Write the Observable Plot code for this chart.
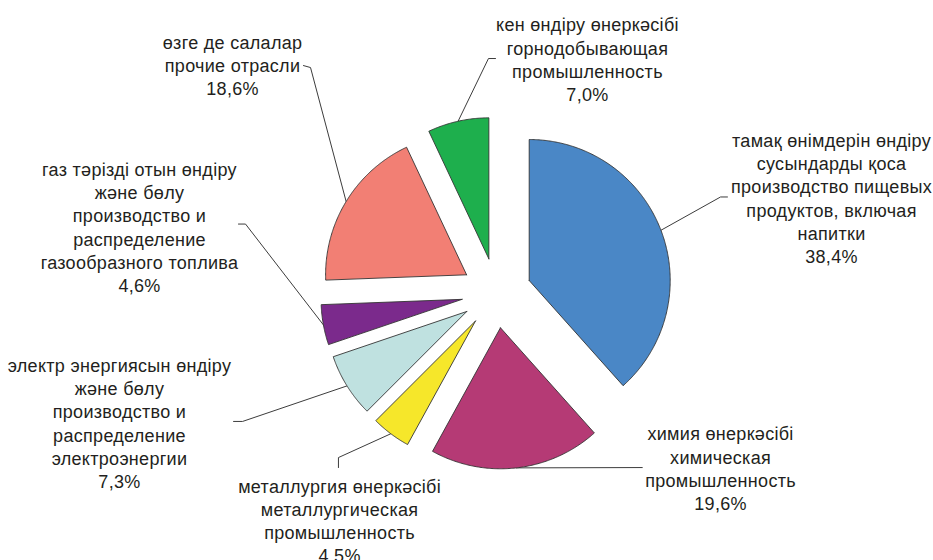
<!DOCTYPE html>
<html>
<head>
<meta charset="utf-8">
<script src="https://cdn.jsdelivr.net/npm/d3@7"></script>
<script src="https://cdn.jsdelivr.net/npm/@observablehq/plot@0.6"></script>
<style>
  html, body { margin: 0; padding: 0; background: #fff; overflow: hidden; }
  #chart svg { display: block; }
  #chart svg text { letter-spacing: 0.3px; }
</style>
</head>
<body>
<div id="chart"></div>
<script>
// ---- data ----
const categories = ["food", "chemistry", "metallurgy", "electricity", "gas", "other", "mining"];
const shares = [38.4, 19.6, 4.5, 7.3, 4.6, 18.6, 7.0];
const labels = [
  "тамақ өнімдерін өндіру\nсусындарды қоса\nпроизводство пищевых\nпродуктов, включая\nнапитки\n38,4%",
  "химия өнеркәсібі\nхимическая\nпромышленность\n19,6%",
  "металлургия өнеркәсібі\nметаллургическая\nпромышленность\n4,5%",
  "электр энергиясын өндіру\nжәне бөлу\nпроизводство и\nраспределение\nэлектроэнергии\n7,3%",
  "газ тәрізді отын өндіру\nжәне бөлу\nпроизводство и\nраспределение\nгазообразного топлива\n4,6%",
  "өзге де салалар\nпрочие отрасли\n18,6%",
  "кен өндіру өнеркәсібі\nгорнодобывающая\nпромышленность\n7,0%"
];

// ---- styles / layout (in pie-radius units) ----
const colors = ["#4a87c6", "#b53a75", "#f6e72a", "#bfe1e0", "#7b2a8c", "#f27f74", "#1eaf4d"];
const explode = 35 / 141;
const labelX = [2.376, 1.589, -1.113, -2.674, -2.532, -1.872, 0.645];
const labelY = [0.677, -1.241, -1.610, -0.918, 0.472, 1.621, 1.660];
const elbowX = [1.589, 1.035, -1.121, -1.801, -1.780, -1.319, -0.057];
const elbowY = [0.681, -1.238, -1.167, -0.911, 0.489, 1.599, 1.663];
const endX   = [1.638, 1.035, -1.121, -1.865, -1.830, -1.369, -0.007];
const endY   = [0.681, -1.238, -1.238, -0.911, 0.489, 1.613, 1.663];

// ---- geometry from data ----
const arcs = d3.pie().sort(null).value(d => d)(shares);
const slices = arcs.map((a, i) => {
  const mid = (a.startAngle + a.endAngle) / 2;
  const ox = explode * Math.sin(mid), oy = explode * Math.cos(mid);
  const pts = [{x: ox, y: oy}];
  const n = Math.max(2, Math.ceil((a.endAngle - a.startAngle) / (Math.PI / 360)));
  for (let k = 0; k <= n; k++) {
    const t = a.startAngle + (a.endAngle - a.startAngle) * k / n;
    pts.push({x: ox + Math.sin(t), y: oy + Math.cos(t)});
  }
  pts.push({x: ox, y: oy});
  return {pts, mid: {x: ox + Math.sin(mid), y: oy + Math.cos(mid)}, color: colors[i]};
});

const leaders = [];
slices.forEach((s, i) => {
  leaders.push({k: i, x: s.mid.x, y: s.mid.y});
  leaders.push({k: i, x: elbowX[i], y: elbowY[i]});
  leaders.push({k: i, x: endX[i], y: endY[i]});
});
const labelData = labels.map((t, i) => ({t, x: labelX[i], y: labelY[i]}));

const W = 933, H = 560, R = 141, cx = 496, cy = 292.5;

const chart = Plot.plot({
  width: W,
  height: H,
  margin: 0,
  x: {domain: [-cx / R, (W - cx) / R], axis: null},
  y: {domain: [-(H - cy) / R, cy / R], axis: null},
  style: {fontFamily: "'Liberation Sans', Arial, sans-serif", background: "#fff"},
  marks: [
    Plot.line(leaders, {x: "x", y: "y", z: "k", stroke: "#3c3c3c", strokeWidth: 1, curve: "linear"}),
    ...slices.map(s => Plot.line(s.pts, {x: "x", y: "y", fill: s.color, stroke: "#333", strokeWidth: 0.9, strokeLinejoin: "round", curve: "linear"})),
    Plot.text(labelData, {
      x: "x", y: "y", text: "t",
      fontSize: 18, lineHeight: 23.3 / 18,
      textAnchor: "middle", lineAnchor: "middle",
      fill: "#231f20"
    })
  ]
});
document.getElementById("chart").appendChild(chart);
</script>
</body>
</html>
